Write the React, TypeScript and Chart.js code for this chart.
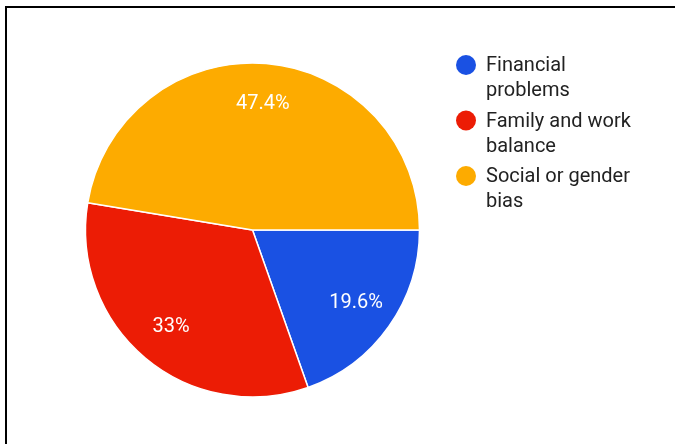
import React, { useEffect, useRef } from "react";
import { Chart, registerables } from "chart.js";

Chart.register(...registerables);

const categories: string[][] = [["Financial", "problems"], ["Family and work", "balance"], ["Social or gender", "bias"]];
const values: number[] = [19.6, 33, 47.4];
const valueLabels: string[] = ["19.6%", "33%", "47.4%"];
const colors: string[] = ["#1a51e3", "#ec1c05", "#fdab00"];

const FONT = "Roboto, 'Noto Sans', Arial, sans-serif";

const sliceLabels = {
  id: "sliceLabels",
  afterDatasetsDraw(chart: any) {
    const ctx = chart.ctx;
    const meta = chart.getDatasetMeta(0);
    ctx.save();
    ctx.fillStyle = "#ffffff";
    ctx.font = `20px ${FONT}`;
    ctx.textAlign = "center";
    ctx.textBaseline = "middle";
    meta.data.forEach((arc: any, i: number) => {
      const { x, y, startAngle, endAngle, outerRadius } = arc.getProps(["x", "y", "startAngle", "endAngle", "outerRadius"], true);
      const mid = (startAngle + endAngle) / 2;
      const r = outerRadius * 0.76;
      ctx.fillText(valueLabels[i], x + Math.cos(mid) * r, y + Math.sin(mid) * r);
    });
    ctx.restore();
  },
};

const customLegend = {
  id: "customLegend",
  afterDraw(chart: any) {
    const ctx = chart.ctx;
    const x0 = 466;
    const y0 = 65;
    const step = 55.5;
    const lineH = 25;
    ctx.save();
    ctx.font = `20px ${FONT}`;
    ctx.textAlign = "left";
    ctx.textBaseline = "middle";
    categories.forEach((lines, i) => {
      const cy = y0 + i * step;
      ctx.beginPath();
      ctx.arc(x0, cy, 10, 0, Math.PI * 2);
      ctx.fillStyle = colors[i];
      ctx.fill();
      ctx.fillStyle = "#222222";
      lines.forEach((t, j) => {
        ctx.fillText(t, 486, cy + 1 + j * lineH);
      });
    });
    ctx.restore();
  },
};

export default function App() {
  const ref = useRef<HTMLCanvasElement | null>(null);
  useEffect(() => {
    if (!ref.current) return;
    const chart = new Chart(ref.current, {
      type: "pie",
      data: {
        labels: categories.map((c) => c.join(" ")),
        datasets: [
          {
            data: values,
            backgroundColor: colors,
            borderColor: "#ffffff",
            borderWidth: 1.5,
            radius: 167,
          } as any,
        ],
      },
      options: {
        animation: false,
        responsive: false,
        rotation: 90,
        layout: { padding: { left: 0, right: 170, top: 16, bottom: 0 } },
        plugins: {
          legend: { display: false },
          tooltip: { enabled: false },
        },
      },
      plugins: [sliceLabels, customLegend],
    });
    return () => chart.destroy();
  }, []);
  return (
    <div style={{ position: "fixed", left: 0, top: 0, width: 675, height: 444, background: "#ffffff", overflow: "hidden" }}>
      <canvas ref={ref} width={675} height={444} style={{ position: "absolute", left: 0, top: 0 }} />
      <div
        style={{
          position: "absolute",
          left: 5,
          top: 6,
          width: 680,
          height: 450,
          borderTop: "2px solid #000",
          borderLeft: "2px solid #000",
          pointerEvents: "none",
        }}
      />
    </div>
  );
}
